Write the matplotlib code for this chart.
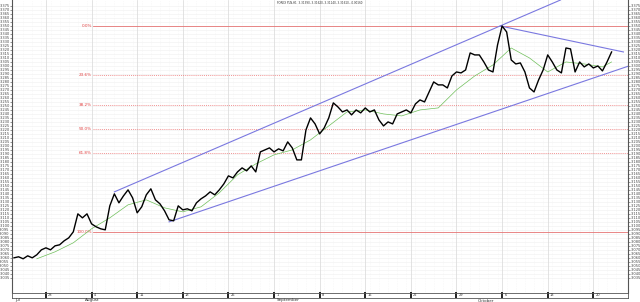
import numpy as np
import matplotlib
matplotlib.use('Agg')
import matplotlib.pyplot as plt
from matplotlib.transforms import blended_transform_factory

# x axis is in trading days (weekends skipped), day 0 = Wed 23 Jul 2014
price_start = -0.5
price_step = 0.5
price = [
    3.0600, 3.0613, 3.0588, 3.0625, 3.0600, 3.0638, 3.0700, 3.0725, 3.0700, 3.0750,
    3.0763, 3.0813, 3.0850, 3.0925, 3.1150, 3.1100, 3.1150, 3.1025, 3.0988, 3.0963,
    3.0950, 3.1250, 3.1400, 3.1288, 3.1375, 3.1450, 3.1350, 3.1163, 3.1238, 3.1388,
    3.1463, 3.1325, 3.1275, 3.1188, 3.1075, 3.1063, 3.1250, 3.1200, 3.1213, 3.1188,
    3.1288, 3.1338, 3.1375, 3.1425, 3.1388, 3.1450, 3.1525, 3.1625, 3.1600, 3.1675,
    3.1725, 3.1688, 3.1750, 3.1675, 3.1925, 3.1950, 3.1975, 3.1925, 3.1963, 3.1938,
    3.2050, 3.1975, 3.1825, 3.1825, 3.2200, 3.2350, 3.2275, 3.2150, 3.2225, 3.2350,
    3.2538, 3.2488, 3.2425, 3.2450, 3.2388, 3.2450, 3.2413, 3.2475, 3.2425, 3.2450,
    3.2325, 3.2250, 3.2300, 3.2275, 3.2400, 3.2425, 3.2450, 3.2413, 3.2525, 3.2575,
    3.2550, 3.2675, 3.2800, 3.2763, 3.2763, 3.2725, 3.2875, 3.2925, 3.2913, 3.2950,
    3.3163, 3.3138, 3.3138, 3.3050, 3.2950, 3.2925, 3.3263, 3.3500, 3.3425, 3.3075,
    3.3025, 3.3038, 3.2925, 3.2725, 3.2675, 3.2825, 3.2950, 3.3138, 3.3050, 3.2950,
    3.2913, 3.3225, 3.3213, 3.2925, 3.3050, 3.2988, 3.3025, 3.2975, 3.3000, 3.2938,
    3.3050, 3.3175,
]

ma_days = [2, 4, 6, 8, 10, 12, 14, 16, 18, 20, 22, 24, 26, 28, 30, 32,
           34, 36, 38, 40, 42, 44, 46, 48, 50, 52, 54, 56, 58, 60, 62, 64, 65]
ma_vals = [3.0588, 3.0675, 3.0788, 3.0963, 3.1100, 3.1263, 3.1325, 3.1225,
           3.1175, 3.1238, 3.1413, 3.1638, 3.1775, 3.1888, 3.1950, 3.2075,
           3.2250, 3.2425, 3.2450, 3.2400, 3.2375, 3.2450, 3.2475, 3.2700,
           3.2875, 3.3013, 3.3225, 3.3100, 3.2925, 3.3050, 3.3025, 3.2988, 3.3050]

# trend lines: (start day, end day), (start value, end value)
upper_days, upper_vals = [10.5, 59.4], [3.1425, 3.3825]
lower_days, lower_vals = [16.5, 66.8], [3.1050, 3.2996]
top_days, top_vals = [52.8, 66.3], [3.3500, 3.3175]

fib_start = 8.2
fib_high, fib_low = 3.3500, 3.0925
fib_levels = [0.0, 23.6, 38.2, 50.0, 61.8, 100.0]

week_days = [3, 8, 13, 18, 23, 28, 33, 38, 43, 48, 53, 58, 63]
week_labels = ['28', '4', '11', '18', '25', '1', '8', '15', '22', '29', '6', '13', '20']
month_days = [-0.7, 7, 28, 50]
month_labels = ['Jul', 'August', 'September', 'October']

title = 'FOREX PLN,H1  3.31390, 3.31620, 3.31140, 3.31610, -0.00160'

xmin, xmax = -0.72, 66.8
ymin, ymax = 3.016, 3.3825

fig = plt.figure(figsize=(6.4, 3.02), dpi=100)
ax = fig.add_axes([12 / 640, 9 / 302, 616 / 640, 293 / 302])
ax.set_xlim(xmin, xmax)
ax.set_ylim(ymin, ymax)

yt = np.arange(3.035, 3.3751, 0.005)
ax.set_yticks(yt)
ax.set_yticklabels(['%.3f' % v for v in yt])
ax.tick_params(axis='y', labelsize=2.6, length=1.2, width=0.4, pad=0.5,
               labelleft=True, labelright=True, right=True, colors='#444444')
ax.set_xticks(week_days)
ax.tick_params(axis='x', length=0, labelbottom=False)
for v in yt:
    ax.axhline(v, color='#efefef', lw=0.4, zorder=0)
for d in week_days:
    ax.axvline(d, color='#d8d8d8', lw=0.5, zorder=0)
for d in np.arange(0.5, 66, 1.0):
    ax.axvline(d, color='#f0f0f0', lw=0.4, ls=(0, (1, 2)), zorder=0)
for s in ['left', 'right']:
    ax.spines[s].set_color('#555555')
    ax.spines[s].set_linewidth(0.8)
ax.spines['top'].set_visible(False)
ax.spines['bottom'].set_visible(False)

# fibonacci levels
for lvl in fib_levels:
    v = fib_high - (fib_high - fib_low) * lvl / 100
    if lvl in (0.0, 100.0):
        ax.plot([fib_start, xmax], [v, v], color='#e57373', lw=0.6, zorder=1)
    else:
        ax.plot([fib_start, xmax], [v, v], color='#ec6f6f', lw=0.5,
                ls=(0, (1.5, 1.5)), zorder=1)
    ax.text(fib_start - 0.15, v, '%.1f%%' % lvl, color='#e04040', fontsize=3,
            ha='right', va='center')

ax.plot(upper_days, upper_vals, color='#7a78e0', lw=0.8, zorder=2)
ax.plot(lower_days, lower_vals, color='#7a78e0', lw=0.8, zorder=2)
ax.plot(top_days, top_vals, color='#7a78e0', lw=0.8, zorder=2)

days = price_start + price_step * np.arange(len(price))
ax.plot(ma_days, ma_vals, color='#6fbf5a', lw=0.5, zorder=3)
ax.plot(days, price, color='black', lw=1.0, zorder=4)

ax.text(0.5, 0.995, title, transform=ax.transAxes, fontsize=2.0,
        ha='center', va='top', color='#333333')

# date bar under the chart
bar = fig.add_axes([12 / 640, 4 / 302, 616 / 640, 5 / 302], sharex=ax)
bar.set_yticks([])
bar.set_xticks(week_days)
bar.tick_params(axis='x', direction='in', length=4, width=1.4, labelbottom=False,
                colors='#222222')
for s in bar.spines.values():
    s.set_linewidth(0.6)
    s.set_color('#555555')
for d, lab in zip(week_days, week_labels):
    bar.text(d + 0.25, 0.5, lab, fontsize=2.6, ha='left', va='center', color='#333333')
trans = blended_transform_factory(bar.transData, bar.transAxes)
for d, lab in zip(month_days, month_labels):
    bar.text(d + 0.3, -0.1, lab, transform=trans, fontsize=3, ha='left', va='top',
             color='#333333')

fig.savefig('out.png', dpi=100)
